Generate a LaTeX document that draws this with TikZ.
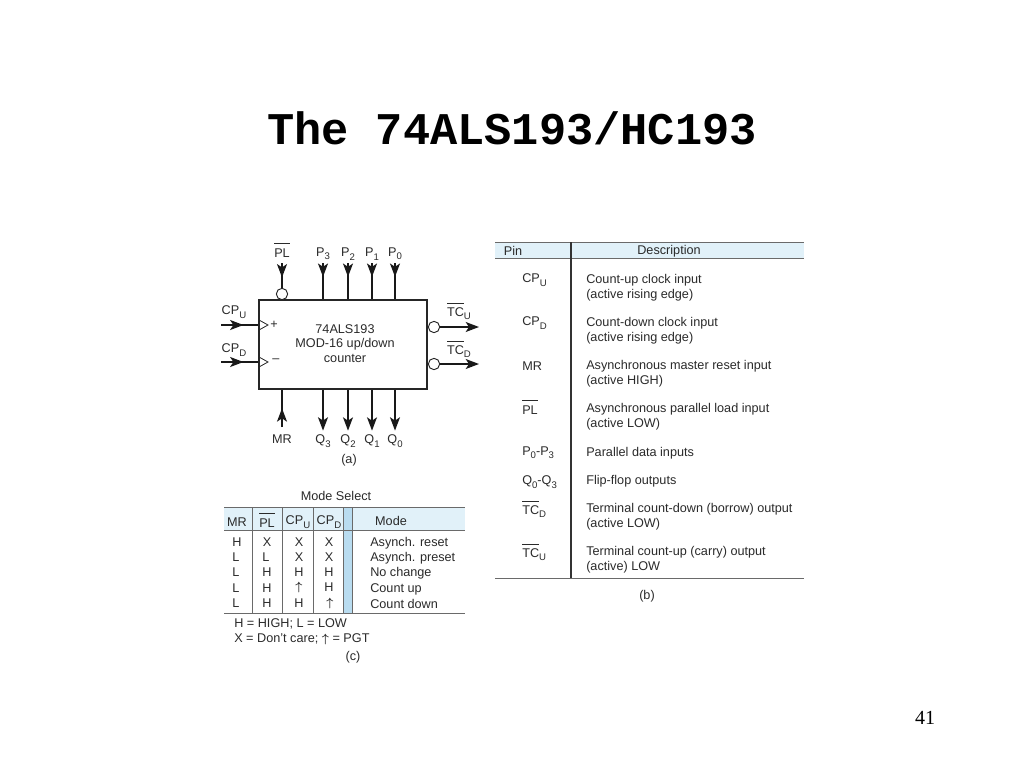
\documentclass[tikz,border=0pt]{standalone}
\usepackage{amsmath,amssymb}
\usepackage{fontspec}
\setmainfont{Liberation Sans}
\newfontfamily\titlefont{Liberation Mono}
\newfontfamily\numfont{Liberation Serif}
\usetikzlibrary{arrows.meta,decorations.markings}
\definecolor{headblue}{HTML}{E1F1F9}
\definecolor{colblue}{HTML}{B9DCF0}
\definecolor{rulegray}{HTML}{6A6A6A}
\definecolor{inkgray}{HTML}{2A2A2A}
\newcommand{\ovl}[1]{$\overline{\mbox{\rule{0pt}{8.8pt}#1}}$}
\newcommand{\lowsub}[1]{\raisebox{-0.5ex}{\fontsize{7.2}{7.2}\selectfont #1}}
\newcommand{\upmark}{$\boldsymbol{\uparrow}$}
\tikzstyle{lbl} = [inner sep=0pt, text=inkgray, font=\fontsize{9.5}{11.1}\selectfont]
\tikzstyle{txt} = [lbl, anchor=west, align=left]
\tikzstyle{chipbox} = [rectangle, draw=black!85, line width=0.9pt, minimum width=126pt, minimum height=66.75pt, inner sep=0pt]
\tikzstyle{bubble} = [circle, draw=black!85, fill=white, line width=0.7pt, minimum size=8.5pt, inner sep=0pt]
\tikzstyle{line} = [draw=black!90, line width=1.1pt, -{Stealth[length=10pt,width=7.5pt,inset=2.5pt]}]
\tikzstyle{midline}[0.5] = [draw=black!90, line width=1.1pt, postaction={decorate}, decoration={markings, mark=at position #1 with {\arrow{Stealth[length=10pt,width=7.5pt,inset=2.5pt]}}}]
\tikzstyle{rule} = [draw=rulegray, line width=0.7pt]
\begin{document}
\begin{tikzpicture}[x=0.75pt, y=-0.75pt]
		\useasboundingbox (0,0) rectangle (1024,768);
		\node [font=\titlefont\bfseries\fontsize{34}{34}\selectfont] (title) at (512,128) {The 74ALS193/HC193};
		\node [font=\numfont\fontsize{15}{15}\selectfont] (pagenum) at (925,718) {41};
		% (a) counter
		\node [chipbox] (chip) at (343,344.5) {};
		\node [lbl, align=center] (chiptext) at (345,343.5) {74ALS193\\MOD-16 up/down\\counter};
		\node [lbl] (lblpl) at (282,250) {\ovl{PL}};
		\node [lbl] (lblpthree) at (323,254) {P\lowsub{3}};
		\node [lbl] (lblptwo) at (348,254) {P\lowsub{2}};
		\node [lbl] (lblpone) at (372,254) {P\lowsub{1}};
		\node [lbl] (lblpzero) at (395,254) {P\lowsub{0}};
		\node [lbl] (lblmr) at (282,439) {MR};
		\node [lbl] (lblqthree) at (323,441) {Q\lowsub{3}};
		\node [lbl] (lblqtwo) at (348,441) {Q\lowsub{2}};
		\node [lbl] (lblqone) at (372,441) {Q\lowsub{1}};
		\node [lbl] (lblqzero) at (395,441) {Q\lowsub{0}};
		\node [lbl] (capa) at (349,460) {(a)};
		\node [lbl] (lblcpu) at (234,312) {CP\lowsub{U}};
		\node [lbl] (lblcpd) at (234,350) {CP\lowsub{D}};
		\node [lbl] (lbltcu) at (459,311) {\ovl{TC}\lowsub{U}};
		\node [lbl] (lbltcd) at (459,349) {\ovl{TC}\lowsub{D}};
		\node [lbl] (plus) at (274,325) {+};
		\node [lbl] (minus) at (276,361) {--};
		\node [bubble] (bubpl) at (282,294) {};
		\node [bubble] (bubtcu) at (434,327) {};
		\node [bubble] (bubtcd) at (434,364) {};
		\coordinate (cpuin) at (221,325);
		\coordinate (cpdin) at (221,362);
		\coordinate (tcuout) at (479,327);
		\coordinate (tcdout) at (479,364);
		\coordinate (mrin) at (282,427);
		\path [midline=0.58] (lblpl) ++(0,13) -- (bubpl);
		\path [midline=0.38] (lblpthree) ++(0,9) -- (lblpthree |- chip.north);
		\path [midline=0.38] (lblptwo) ++(0,9) -- (lblptwo |- chip.north);
		\path [midline=0.38] (lblpone) ++(0,9) -- (lblpone |- chip.north);
		\path [midline=0.38] (lblpzero) ++(0,9) -- (lblpzero |- chip.north);
		\path [midline=0.6] (cpuin) -- (cpuin -| chip.west);
		\path [midline=0.6] (cpdin) -- (cpdin -| chip.west);
		\path [midline=0.5] (mrin) -- (mrin |- chip.south);
		\path [line] (lblqthree |- chip.south) -- ([yshift=3pt]lblqthree.north);
		\path [line] (lblqtwo |- chip.south) -- ([yshift=3pt]lblqtwo.north);
		\path [line] (lblqone |- chip.south) -- ([yshift=3pt]lblqone.north);
		\path [line] (lblqzero |- chip.south) -- ([yshift=3pt]lblqzero.north);
		\path [line] (bubtcu) -- (tcuout);
		\path [line] (bubtcd) -- (tcdout);
		\draw [draw=black!85, line width=0.6pt] (259,320) -- (268,325) -- (259,330);
		\draw [draw=black!85, line width=0.6pt] (259,357) -- (268,362) -- (259,367);
		% (c) mode table
		\fill [headblue] (224,507) rectangle (465,530);
		\fill [colblue] (343,507) rectangle (352,613);
		\draw [rule] (224,507) -- (465,507);
		\draw [rule] (224,530) -- (465,530);
		\draw [rule] (224,613) -- (465,613);
		\draw [rule] (252,507) -- (252,613);
		\draw [rule] (282,507) -- (282,613);
		\draw [rule] (313,507) -- (313,613);
		\draw [rule] (343,507) -- (343,613);
		\draw [rule] (352,507) -- (352,613);
		\node [lbl] (modeselect) at (336,496) {Mode Select};
		\node [lbl] (hmr) at (237,522) {MR};
		\node [lbl] (hpl) at (267,520) {\ovl{PL}};
		\node [lbl] (hcpu) at (298,522) {CP\lowsub{U}};
		\node [lbl] (hcpd) at (329,522) {CP\lowsub{D}};
		\node [lbl] (hmode) at (391,521) {Mode};
		\node [lbl] (ra) at (237,542) {H};
		\node [lbl] (rb) at (267,542) {X};
		\node [lbl] (rc) at (299,542) {X};
		\node [lbl] (rd) at (329,542) {X};
		\node [txt] (re) at (370,543) {Asynch. reset};
		\node [lbl] (sa) at (236,557) {L};
		\node [lbl] (sb) at (266,557) {L};
		\node [lbl] (sc) at (299,557) {X};
		\node [lbl] (sd) at (329,557) {X};
		\node [txt] (se) at (370,558) {Asynch. preset};
		\node [lbl] (ta) at (236,572) {L};
		\node [lbl] (tb) at (267,572) {H};
		\node [lbl] (tc) at (299,572) {H};
		\node [lbl] (td) at (329,572) {H};
		\node [txt] (te) at (370,573) {No change};
		\node [lbl] (ua) at (236,588) {L};
		\node [lbl] (ub) at (267,588) {H};
		\node [lbl] (uc) at (299,587) {\upmark};
		\node [lbl] (ud) at (329,587) {H};
		\node [txt] (ue) at (370,589) {Count up};
		\node [lbl] (va) at (236,603) {L};
		\node [lbl] (vb) at (267,603) {H};
		\node [lbl] (vc) at (299,603) {H};
		\node [lbl] (vd) at (330,603) {\upmark};
		\node [txt] (ve) at (370,604) {Count down};
		\node [txt] (legenda) at (234,624) {H = HIGH; L = LOW};
		\node [txt] (legendb) at (234,639) {X = Don't care; \upmark\ = PGT};
		\node [lbl] (capc) at (353,657) {(c)};
		% (b) pin table
		\fill [headblue] (495,242) rectangle (804,258.5);
		\draw [rule] (495,242) -- (804,242);
		\draw [rule] (495,258.5) -- (804,258.5);
		\draw [rule] (495,578) -- (804,578);
		\draw [draw=black!80, line width=1pt] (571,242) -- (571,578);
		\node [lbl] (hpin) at (513,251) {Pin};
		\node [lbl] (hdesc) at (669,251) {Description};
		\node [txt] (pina) at (522,280) {CP\lowsub{U}};
		\node [txt] (desca) at (586,288) {Count-up clock input\\(active rising edge)};
		\node [txt] (pinb) at (522,323) {CP\lowsub{D}};
		\node [txt] (descb) at (586,331) {Count-down clock input\\(active rising edge)};
		\node [txt] (pinc) at (522,366) {MR};
		\node [txt] (descc) at (586,374) {Asynchronous master reset input\\(active HIGH)};
		\node [txt] (pind) at (522,407) {\ovl{PL}};
		\node [txt] (descd) at (586,417) {Asynchronous parallel load input\\(active LOW)};
		\node [txt] (pine) at (522,453) {P\lowsub{0}-P\lowsub{3}};
		\node [txt] (desce) at (586,453) {Parallel data inputs};
		\node [txt] (pinf) at (522,482) {Q\lowsub{0}-Q\lowsub{3}};
		\node [txt] (descf) at (586,481) {Flip-flop outputs};
		\node [txt] (ping) at (522,509) {\ovl{TC}\lowsub{D}};
		\node [txt] (descg) at (586,517) {Terminal count-down (borrow) output\\(active LOW)};
		\node [txt] (pinh) at (522,552) {\ovl{TC}\lowsub{U}};
		\node [txt] (desch) at (586,560) {Terminal count-up (carry) output\\(active) LOW};
		\node [lbl] (capb) at (647,596) {(b)};
	\end{tikzpicture}
\end{document}
